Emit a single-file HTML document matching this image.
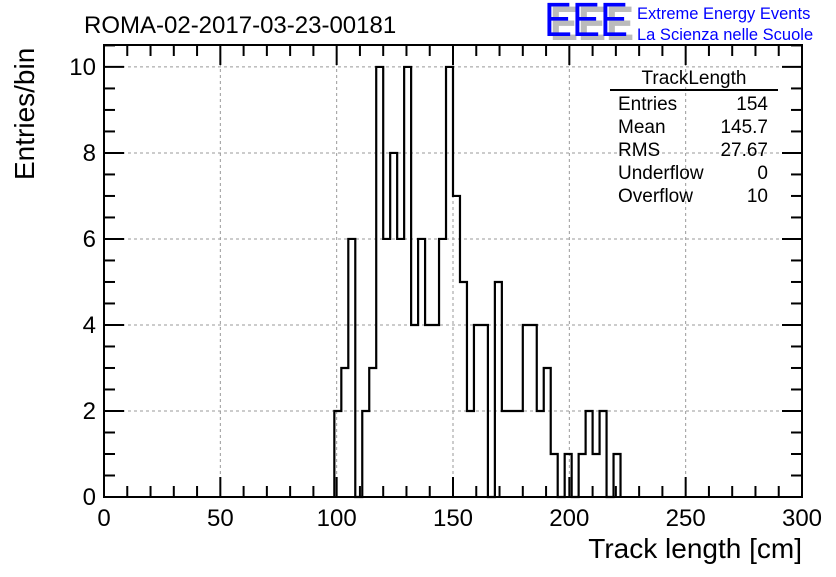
<!DOCTYPE html>
<html><head><meta charset="utf-8"><style>
body{margin:0;background:#fff}
svg text{font-family:"Liberation Sans",sans-serif}
</style></head><body>
<svg width="836" height="572" xmlns="http://www.w3.org/2000/svg">
<g id="grid"></g>
<g id="ticks"></g>
<path id="hist" fill="none" stroke="#000" stroke-width="2.2"/>
<rect x="104" y="45" width="698" height="452" fill="none" stroke="#000" stroke-width="2"/>
<g id="labels" font-size="24"></g>
<text x="84" y="33" font-size="24">ROMA-02-2017-03-23-00181</text>
<text x="802" y="558" font-size="28" text-anchor="end">Track length [cm]</text>
<text transform="translate(34,180) rotate(-90)" font-size="28">Entries/bin</text>
<g>
<text x="550" y="40" font-size="48" fill="#bbb" font-weight="bold" textLength="84" lengthAdjust="spacingAndGlyphs">EEE</text>
<text x="544" y="36" font-size="48" fill="#0000ff" textLength="84" lengthAdjust="spacingAndGlyphs">EEE</text>
<text x="637" y="19" font-size="16.5" fill="#0000ff">Extreme Energy Events</text>
<text x="637" y="40" font-size="16.5" fill="#0000ff">La Scienza nelle Scuole</text>
</g>
<g font-size="19">
<text x="694" y="84" text-anchor="middle">TrackLength</text>
<line x1="610" y1="90" x2="778" y2="90" stroke="#000" stroke-width="2"/>
<text x="618" y="110">Entries</text><text x="768" y="110" text-anchor="end">154</text>
<text x="618" y="133">Mean</text><text x="768" y="133" text-anchor="end">145.7</text>
<text x="618" y="156">RMS</text><text x="768" y="156" text-anchor="end">27.67</text>
<text x="618" y="179">Underflow</text><text x="768" y="179" text-anchor="end">0</text>
<text x="618" y="202">Overflow</text><text x="768" y="202" text-anchor="end">10</text>
</g>
</svg>
<script>
const binStart = 99;
const binWidth = 3;
const counts = [2,3,6,0,2,3,10,6,8,6,10,4,6,4,4,6,10,7,5,2,4,4,0,5,2,2,2,4,4,2,3,1,0,1,0,1,2,1,2,0,1];
const xTicks = [0,50,100,150,200,250,300];
const yTicks = [0,2,4,6,8,10];
const X0=104,X1=802,Y0=497,Y1=45,xmax=300,ymax=10.51;
const sx=v=>X0+(X1-X0)*v/xmax, sy=v=>Y0-(Y0-Y1)*v/ymax;
const NS="http://www.w3.org/2000/svg";
function mk(t,a,p){const e=document.createElementNS(NS,t);for(const k in a)e.setAttribute(k,a[k]);p.appendChild(e);return e;}
const grid=document.getElementById('grid'),ticks=document.getElementById('ticks'),labels=document.getElementById('labels');
xTicks.forEach(v=>{
  if(v>0&&v<xmax){const g=mk('line',{x1:sx(v),x2:sx(v),y1:Y1,y2:Y0,stroke:'#999','stroke-dasharray':'3,3'},grid);
  }
  const t=mk('text',{x:sx(v),y:526,'text-anchor':'middle'},labels);t.textContent=v;
  
});
yTicks.forEach(v=>{
  if(v>0){const g=mk('line',{x1:X0,x2:X1,y1:sy(v),y2:sy(v),stroke:'#999','stroke-dasharray':'3,3'},grid);
  }
  const t=mk('text',{x:96,y:sy(v)+8,'text-anchor':'end'},labels);t.textContent=v;
  
});
for(let v=0;v<=xmax;v+=10){const L=v%50===0?20:11;
  mk('line',{x1:sx(v),x2:sx(v),y1:Y0,y2:Y0-L,stroke:'#000','stroke-width':2},ticks);
  mk('line',{x1:sx(v),x2:sx(v),y1:Y1,y2:Y1+L,stroke:'#000','stroke-width':2},ticks);}
for(let v=0;v<=ymax;v+=0.5){const L=Math.abs(v%2)<1e-9?20:11;
  mk('line',{x1:X0,x2:X0+L,y1:sy(v),y2:sy(v),stroke:'#000','stroke-width':2},ticks);
  mk('line',{x1:X1,x2:X1-L,y1:sy(v),y2:sy(v),stroke:'#000','stroke-width':2},ticks);}
let d='M'+sx(binStart)+','+sy(0);
counts.forEach((c,i)=>{const a=binStart+i*binWidth;d+=' L'+sx(a)+','+sy(c)+' L'+sx(a+binWidth)+','+sy(c);});
d+=' L'+sx(binStart+counts.length*binWidth)+','+sy(0);
document.getElementById('hist').setAttribute('d',d);
</script>
</body></html>
